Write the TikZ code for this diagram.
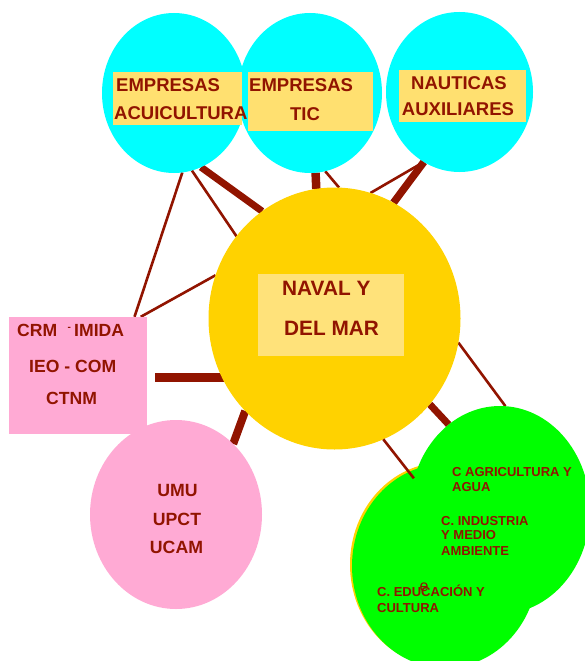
\documentclass[tikz,border=0pt]{standalone}
\usepackage{fontspec}
\setmainfont{Liberation Sans}
\usetikzlibrary{shapes.geometric,backgrounds}

\begin{document}
\begin{tikzpicture}[x=1pt, y=-1pt, line cap=butt,
  blob/.style={ellipse, inner sep=0pt, outer sep=0pt},
  tag/.style={rectangle, inner sep=0pt, outer sep=0pt},
  txt/.style={inner sep=0pt, anchor=base west, text=marron,
    font=\bfseries\fontsize{18.5}{18.5}\selectfont},
  ctxt/.style={txt, anchor=base},
  gtxt/.style={txt, font=\bfseries\fontsize{13}{13}\selectfont},
  link/.style={draw=marron, line width=2.6pt},
  biglink/.style={draw=marron, line width=8pt}]
  \definecolor{marron}{RGB}{145,20,0}
  \definecolor{cian}{RGB}{0,255,255}
  \definecolor{oro}{RGB}{255,210,0}
  \definecolor{crema}{RGB}{255,224,112}
  \definecolor{cremaclaro}{RGB}{255,226,122}
  \definecolor{rosa}{RGB}{255,170,212}
  \definecolor{verde}{RGB}{0,255,0}
  \useasboundingbox (0,0) rectangle (584,661);

  % sectors
  \node[blob, fill=cian, minimum width=144pt, minimum height=160pt] (acui) at (174,93) {};
  \node[blob, fill=cian, minimum width=144pt, minimum height=160pt] (tic) at (310,93) {};
  \node[blob, fill=cian, minimum width=147pt, minimum height=160pt] (naut) at (459.5,92) {};
  \node[blob, fill=oro, minimum width=252pt, minimum height=262pt] (naval) at (334.5,318.5) {};
  \node[tag, fill=rosa, minimum width=138pt, minimum height=117pt] (crm) at (78,375.3) {};
  \node[blob, fill=rosa, minimum width=172pt, minimum height=189pt] (umu) at (176,514.5) {};
  \node[blob, fill=verde, minimum width=180pt, minimum height=208pt] (agri) at (500,510) {};
  \node[blob, fill=verde, minimum width=186pt, minimum height=204pt] (educ) at (445,566) {};

  % links (behind)
  \begin{pgfonlayer}{background}
    \fill[oro] ([xshift=-2pt,yshift=1.5pt]educ.center) ellipse [x radius=93pt, y radius=102pt];
    \draw[link] (acui.276) -- (crm.46);
    \draw[link] (acui.283) -- (naval.140);
    \draw[biglink, line width=7pt] (acui.290) -- (naval.124);
    \draw[biglink, line width=8.5pt] (tic.274) -- (naval.98);
    \draw[link] (tic.281) -- (naval.88);
    \draw[biglink, line width=7.5pt] (naut.243) -- (naval.63);
    \draw[link] (naut.243) -- (naval.74);
    \draw[link] (naval.160) -- (crm.43);
    \coordinate (crmout) at ([xshift=8pt,yshift=-2pt]crm.east);
    \draw[biglink, line width=9pt] (crmout) -- (crmout -| naval.center);
    \draw[biglink] (umu.51) -- (naval.226);
    \draw[biglink, line width=7pt] (naval.318) -- (agri.121);
    \draw[link] (naval.349) -- (agri.87);
  \end{pgfonlayer}
  \draw[link, shorten >=-8pt] (naval.292) -- (educ.111);

  % label boxes
  \node[tag, fill=crema, minimum width=129pt, minimum height=53pt] (acuibox) at (177.5,98.5) {};
  \node[tag, fill=crema, minimum width=125pt, minimum height=59pt] (ticbox) at (310.5,101.5) {};
  \node[tag, fill=crema, minimum width=127pt, minimum height=52pt] (nautbox) at (462.5,96) {};
  \node[tag, fill=cremaclaro, minimum width=146pt, minimum height=82pt] (navalbox) at (331,315) {};

  % texts
  \node[txt] (acuia) at (116,91) {EMPRESAS};
  \node[txt] (acuib) at (114,119) {ACUICULTURA};
  \node[txt] (tica) at (249,91) {EMPRESAS};
  \node[ctxt] (ticb) at (305,120) {TIC};
  \node[ctxt] (nauta) at (459,89) {NAUTICAS};
  \node[ctxt] (nautb) at (458,115) {AUXILIARES};
  \node[txt, font=\bfseries\fontsize{20.8}{20.8}\selectfont] (navala) at (282,295) {NAVAL Y};
  \node[txt, font=\bfseries\fontsize{20.8}{20.8}\selectfont] (navalb) at (284,335) {DEL MAR};
  \node[txt, font=\bfseries\fontsize{17.6}{17.6}\selectfont] (crma) at (17,336) {CRM};
  \node[txt, font=\bfseries\fontsize{10}{10}\selectfont] (crmdash) at (67.5,330.5) {-};
  \node[txt, font=\bfseries\fontsize{17.6}{17.6}\selectfont] (crmb) at (74,336) {IMIDA};
  \node[txt, font=\bfseries\fontsize{17.6}{17.6}\selectfont] (crmc) at (29,372) {IEO - COM};
  \node[txt, font=\bfseries\fontsize{17.6}{17.6}\selectfont] (crmd) at (46,404) {CTNM};
  \node[ctxt, font=\bfseries\fontsize{17.7}{17.7}\selectfont] (umua) at (177.5,496) {UMU};
  \node[ctxt, font=\bfseries\fontsize{17.7}{17.7}\selectfont] (umub) at (177,525) {UPCT};
  \node[ctxt, font=\bfseries\fontsize{17.7}{17.7}\selectfont] (umuc) at (176.5,553) {UCAM};
  \node[gtxt] (agria) at (452,476) {C AGRICULTURA Y};
  \node[gtxt] (agrib) at (452,491) {AGUA};
  \node[gtxt] (inda) at (441,525) {C. INDUSTRIA};
  \node[gtxt] (indb) at (441,539.3) {Y MEDIO};
  \node[gtxt] (indc) at (441,555) {AMBIENTE};
  \node[gtxt] (educa) at (377,596) {C. EDUCACIÓN Y};
  \node[gtxt] (educb) at (377,612) {CULTURA};
  \node[txt, font=\fontsize{16}{16}\selectfont] (educe) at (419.5,591) {e};
\end{tikzpicture}
\end{document}
